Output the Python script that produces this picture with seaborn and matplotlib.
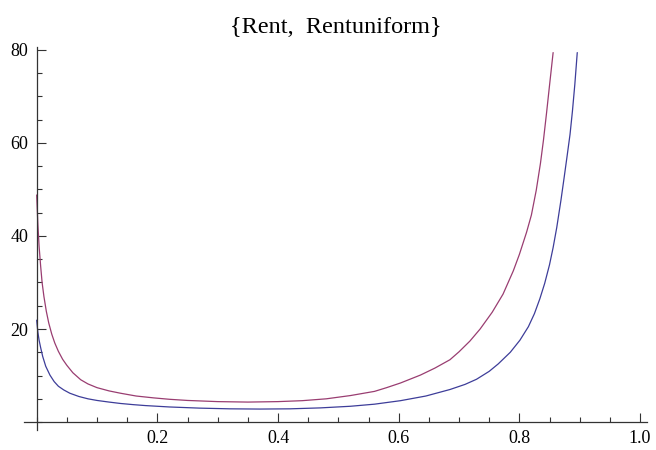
import matplotlib
matplotlib.use("Agg")
import matplotlib.pyplot as plt
from matplotlib.ticker import MultipleLocator, FixedLocator
import seaborn as sns
import pandas as pd

# Rent curve
rent_x = [0.0, 0.002, 0.004, 0.0066, 0.009, 0.012, 0.016, 0.020, 0.025, 0.030,
          0.036, 0.043, 0.05, 0.06, 0.073, 0.085, 0.10, 0.12, 0.139, 0.165,
          0.194, 0.22, 0.25, 0.30, 0.35, 0.40, 0.44, 0.48, 0.52, 0.56,
          0.58, 0.603, 0.636, 0.66, 0.685, 0.70, 0.718, 0.735, 0.755, 0.773,
          0.79, 0.80, 0.812, 0.82, 0.828, 0.835, 0.840, 0.845, 0.850, 0.856]
rent_y = [48.8, 42.5, 37.8, 33.5, 30.0, 27.0, 23.8, 21.3, 18.9, 17.0,
          15.2, 13.5, 12.2, 10.6, 9.1, 8.2, 7.4, 6.7, 6.2, 5.6,
          5.2, 4.9, 4.65, 4.4, 4.3, 4.4, 4.6, 5.0, 5.7, 6.6,
          7.4, 8.4, 10.1, 11.6, 13.4, 15.1, 17.4, 20.0, 23.6, 27.5,
          32.5, 36.0, 40.8, 44.5, 49.8, 55.6, 60.6, 66.3, 72.3, 79.4]

# Rentuniform curve
uni_x = [0.0, 0.002, 0.004, 0.0066, 0.010, 0.015, 0.022, 0.029, 0.036, 0.045,
         0.055, 0.07, 0.085, 0.10, 0.12, 0.139, 0.16, 0.18, 0.22, 0.27,
         0.32, 0.37, 0.42, 0.47, 0.52, 0.56, 0.603, 0.645, 0.685, 0.71,
         0.729, 0.75, 0.765, 0.785, 0.801, 0.815, 0.825, 0.834, 0.842, 0.850,
         0.856, 0.862, 0.869, 0.874, 0.879, 0.884, 0.888, 0.892, 0.896]
uni_y = [21.9, 19.3, 17.6, 16.0, 14.1, 12.0, 10.1, 8.7, 7.7, 6.9,
         6.2, 5.5, 5.0, 4.65, 4.3, 4.0, 3.75, 3.55, 3.25, 3.0,
         2.85, 2.8, 2.85, 3.05, 3.4, 3.85, 4.6, 5.6, 7.0, 8.1,
         9.2, 10.9, 12.5, 15.0, 17.6, 20.5, 23.3, 26.5, 29.8, 33.8,
         37.5, 41.8, 47.7, 52.3, 57.0, 61.8, 66.8, 72.6, 79.4]

x_ticks = [0.2, 0.4, 0.6, 0.8, 1.0]
x_labels = ["0.2", "0.4", "0.6", "0.8", "1.0"]
y_ticks = [20, 40, 60, 80]
y_labels = ["20", "40", "60", "80"]
title = "{Rent,  Rentuniform}"

df = pd.concat([
    pd.DataFrame({"x": uni_x, "y": uni_y, "series": "Rentuniform"}),
    pd.DataFrame({"x": rent_x, "y": rent_y, "series": "Rent"}),
], ignore_index=True)

sns.set_style("white")
plt.rcParams["font.family"] = ["Liberation Serif", "DejaVu Serif"]

fig = plt.figure(figsize=(6.56, 4.5), dpi=100)
ax = fig.add_axes([24 / 656, 1 - 430 / 450, (647 - 24) / 656, (430 - 47) / 450])

palette = {"Rentuniform": "#3d3d99", "Rent": "#993d71"}
sns.lineplot(data=df, x="x", y="y", hue="series", palette=palette,
             estimator=None, sort=False, linewidth=0.9, legend=False, ax=ax)

ax.set_xlim(-0.021, 1.0116)
ax.set_ylim(-1.7, 80.6)

for side in ("top", "right"):
    ax.spines[side].set_visible(False)
for side in ("left", "bottom"):
    ax.spines[side].set_position(("data", 0))
    ax.spines[side].set_color("#333333")
    ax.spines[side].set_linewidth(0.9)

ax.xaxis.set_major_locator(FixedLocator(x_ticks))
ax.set_xticklabels(x_labels)
ax.xaxis.set_minor_locator(MultipleLocator(0.05))
ax.yaxis.set_major_locator(FixedLocator(y_ticks))
ax.set_yticklabels(y_labels)
ax.yaxis.set_minor_locator(MultipleLocator(5))

ax.tick_params(which="both", direction="in", color="#333333", width=0.8,
               labelsize=13, labelcolor="black")
ax.tick_params(which="major", length=6.5, pad=6)
ax.tick_params(which="minor", length=3.5)
ax.tick_params(axis="x", which="both", bottom=True, top=False)
ax.tick_params(axis="y", which="both", left=True, right=False)

ax.set_xlabel("")
ax.set_ylabel("")
ax.set_title(title, fontsize=17.5, pad=10, color="black")

fig.savefig("out.png", dpi=100)
